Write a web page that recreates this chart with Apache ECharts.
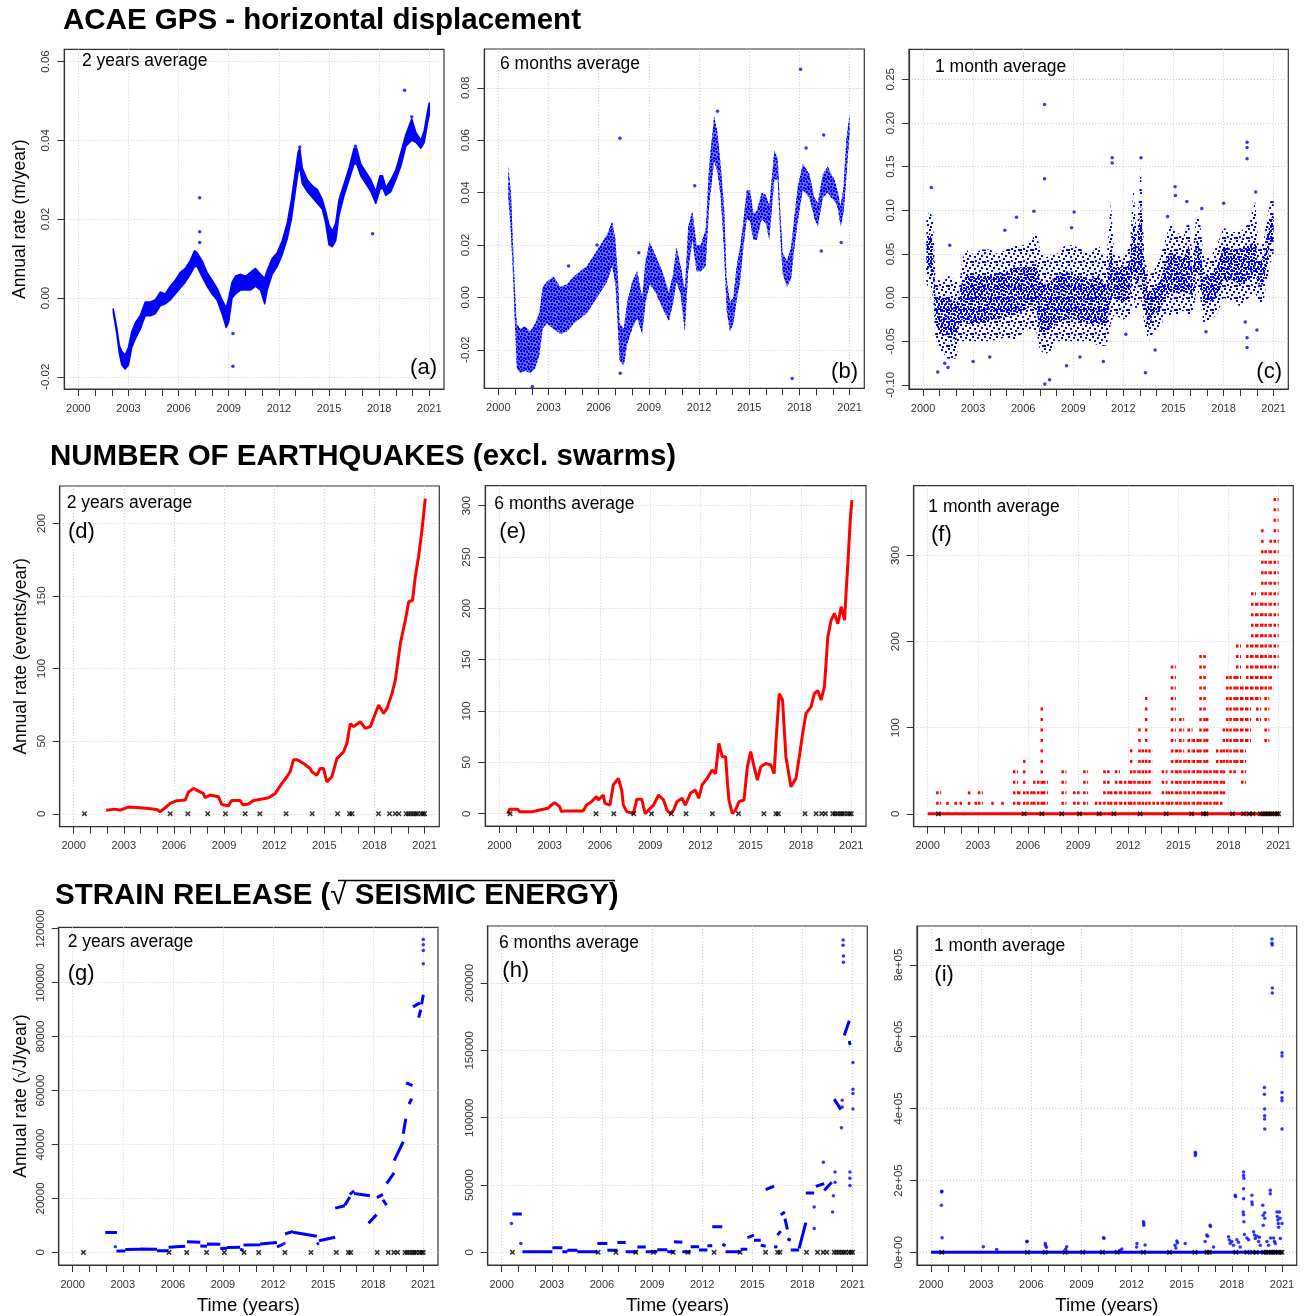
<!DOCTYPE html>
<html><head><meta charset="utf-8">
<script src="https://cdn.jsdelivr.net/npm/echarts@6.0.0/dist/echarts.min.js"></script>
<style>html,body{margin:0;padding:0;background:#fff}#c{width:1306px;height:1316px}</style>
</head><body><div id="c"></div><script>
// ---------------- DATA ----------------
const yearTicks = [2000,2001,2002,2003,2004,2005,2006,2007,2008,2009,2010,2011,2012,2013,2014,2015,2016,2017,2018,2019,2020,2021];
const yearLabels = [2000,2003,2006,2009,2012,2015,2018,2021];

// (a) GPS 2 years average: band of scatter (lower / upper edge)
const aT  = [2002.09,2002.3,2002.45,2002.6,2002.8,2003.0,2003.2,2003.45,2003.7,2004.0,2004.3,2004.6,2004.9,2005.2,2005.5,2005.8,2006.1,2006.4,2006.7,2006.95,2007.1,2007.4,2007.7,2008.0,2008.3,2008.6,2008.85,2009.0,2009.2,2009.4,2009.7,2010.0,2010.3,2010.6,2010.9,2011.15,2011.3,2011.6,2011.9,2012.2,2012.5,2012.75,2012.95,2013.15,2013.25,2013.4,2013.7,2014.0,2014.3,2014.6,2014.8,2015.0,2015.2,2015.4,2015.6,2015.9,2016.2,2016.5,2016.65,2016.9,2017.2,2017.5,2017.8,2018.05,2018.2,2018.4,2018.7,2019.0,2019.3,2019.6,2019.95,2020.2,2020.5,2020.7,2020.9,2021.0];
const aLo = [-0.0036,-0.009,-0.014,-0.017,-0.018,-0.017,-0.0125,-0.010,-0.008,-0.0045,-0.0045,-0.004,-0.002,-0.0015,-0.0005,0.001,0.0025,0.004,0.006,0.008,0.008,0.0055,0.003,0.001,-0.0005,-0.004,-0.0075,-0.006,0.000,0.001,0.002,0.002,0.002,0.003,0.002,-0.0015,0.002,0.006,0.008,0.011,0.015,0.020,0.026,0.032,0.033,0.029,0.027,0.0255,0.024,0.0225,0.019,0.0135,0.013,0.0145,0.021,0.026,0.030,0.034,0.034,0.031,0.029,0.027,0.024,0.0275,0.028,0.026,0.027,0.030,0.0335,0.0385,0.040,0.0395,0.038,0.0395,0.0445,0.0465];
const aHi = [-0.0028,-0.0075,-0.012,-0.0135,-0.0145,-0.0125,-0.0085,-0.006,-0.0045,-0.001,-0.001,-0.0005,0.0015,0.001,0.003,0.0045,0.0065,0.0075,0.0095,0.012,0.0115,0.0095,0.0065,0.0045,0.0025,-0.0005,-0.0025,0.000,0.004,0.0055,0.006,0.0055,0.0065,0.0075,0.006,0.005,0.007,0.010,0.0115,0.0145,0.019,0.025,0.031,0.037,0.038,0.033,0.030,0.0285,0.0275,0.025,0.022,0.0185,0.017,0.019,0.025,0.029,0.033,0.038,0.038,0.034,0.032,0.030,0.027,0.031,0.031,0.028,0.030,0.0325,0.037,0.0415,0.0455,0.042,0.040,0.0425,0.0475,0.0495];
const aOut = [[2007.26,0.0254],[2007.26,0.0168],[2007.26,0.0141],[2009.25,-0.0173],[2009.25,-0.009],[2017.61,0.0163],[2019.52,0.0527],[2013.25,0.0383],[2016.58,0.0385],[2019.95,0.046]];

// (b) GPS 6 months average
const bT  = [2000.6,2000.75,2000.88,2000.98,2001.1,2001.3,2001.6,2001.9,2002.2,2002.45,2002.65,2002.9,2003.3,2003.7,2004.1,2004.5,2004.9,2005.3,2005.7,2006.1,2006.5,2006.8,2007.0,2007.15,2007.25,2007.5,2007.7,2008.0,2008.3,2008.6,2008.8,2009.05,2009.4,2009.8,2010.2,2010.45,2010.65,2010.9,2011.15,2011.35,2011.6,2011.85,2012.1,2012.4,2012.6,2012.9,2013.1,2013.3,2013.5,2013.65,2013.85,2014.05,2014.25,2014.45,2014.65,2014.85,2015.05,2015.25,2015.45,2015.75,2016.0,2016.2,2016.5,2016.7,2016.87,2017.0,2017.25,2017.5,2017.7,2017.9,2018.2,2018.6,2018.9,2019.1,2019.4,2019.7,2019.9,2020.1,2020.3,2020.46,2020.64,2020.8,2021.0];
const bLo = [0.038,0.025,0.008,-0.008,-0.027,-0.029,-0.028,-0.029,-0.027,-0.022,-0.012,-0.010,-0.012,-0.014,-0.013,-0.010,-0.008,-0.006,-0.002,0.002,0.006,0.012,0.005,-0.012,-0.024,-0.026,-0.018,-0.012,-0.008,-0.014,-0.002,0.005,0.002,-0.004,-0.009,-0.002,0.006,0.001,-0.013,0.010,0.022,0.010,0.010,0.012,0.035,0.052,0.048,0.038,0.017,-0.005,-0.013,-0.010,-0.001,0.006,0.019,0.030,0.029,0.022,0.022,0.030,0.028,0.022,0.045,0.045,0.022,0.009,0.004,0.007,0.019,0.029,0.041,0.038,0.030,0.027,0.038,0.040,0.038,0.037,0.034,0.027,0.032,0.045,0.063];
const bHi = [0.050,0.040,0.020,0.004,-0.010,-0.012,-0.011,-0.013,-0.010,-0.006,0.004,0.006,0.008,0.004,0.005,0.008,0.010,0.012,0.016,0.020,0.024,0.029,0.022,0.008,-0.010,-0.012,-0.002,0.006,0.010,0.000,0.014,0.021,0.016,0.010,0.002,0.009,0.019,0.012,0.003,0.027,0.033,0.020,0.020,0.026,0.050,0.069,0.063,0.050,0.034,0.007,-0.002,0.000,0.012,0.019,0.029,0.041,0.041,0.032,0.033,0.040,0.039,0.035,0.056,0.053,0.031,0.017,0.014,0.019,0.031,0.042,0.051,0.047,0.038,0.036,0.047,0.050,0.047,0.045,0.040,0.035,0.042,0.060,0.070];
const bOut = [[2007.27,0.0607],[2018.07,0.0871],[2017.57,-0.031],[2002.03,-0.034],[2019.31,0.0177],[2020.5,0.0209],[2007.29,-0.029],[2011.74,0.0426],[2019.45,0.062],[2013.1,0.071],[2004.2,0.012],[2005.9,0.020],[2008.4,0.017],[2018.4,0.057]];

// (c) GPS 1 month average: outer scatter envelope and dense core
const cT   = [2000.2,2000.4,2000.6,2000.75,2001.0,2001.5,2002.0,2002.15,2002.35,2002.7,2003.0,2003.5,2004.0,2004.5,2005.0,2005.5,2006.0,2006.5,2006.8,2007.0,2007.3,2007.7,2008.0,2008.5,2009.0,2009.5,2010.0,2010.5,2011.0,2011.25,2011.45,2012.0,2012.4,2012.6,2012.8,2013.05,2013.25,2013.5,2013.8,2014.2,2014.5,2014.8,2015.2,2015.6,2015.9,2016.15,2016.4,2016.6,2016.8,2017.2,2017.6,2018.0,2018.5,2019.0,2019.5,2019.9,2020.1,2020.4,2020.6,2020.8,2021.0];
const cOLo = [0.010,0.020,0.000,-0.050,-0.060,-0.070,-0.070,-0.050,-0.050,-0.050,-0.050,-0.050,-0.050,-0.048,-0.045,-0.050,-0.040,-0.035,-0.040,-0.060,-0.065,-0.060,-0.050,-0.050,-0.050,-0.050,-0.050,-0.055,-0.055,-0.030,-0.020,-0.025,-0.020,0.000,-0.020,0.000,-0.030,-0.050,-0.040,-0.035,-0.020,-0.020,-0.020,-0.015,-0.020,-0.020,0.010,0.000,-0.030,-0.025,-0.020,0.000,-0.005,-0.010,0.000,0.005,-0.005,-0.005,0.020,0.040,0.045];
const cLo  = [0.030,0.035,0.020,-0.030,-0.040,-0.045,-0.050,-0.030,-0.025,-0.030,-0.030,-0.028,-0.025,-0.025,-0.022,-0.020,-0.015,-0.010,-0.015,-0.040,-0.040,-0.035,-0.030,-0.025,-0.025,-0.028,-0.030,-0.030,-0.035,0.000,0.000,-0.005,0.000,0.030,0.010,0.030,-0.010,-0.035,-0.020,-0.015,0.000,0.005,0.005,0.005,0.005,0.000,0.030,0.020,-0.010,-0.005,0.000,0.020,0.020,0.015,0.020,0.025,0.015,0.015,0.040,0.060,0.065];
const cHi  = [0.065,0.075,0.060,0.000,0.000,0.000,-0.005,0.000,0.020,0.025,0.025,0.025,0.025,0.028,0.030,0.035,0.035,0.035,0.040,0.020,0.015,0.020,0.025,0.030,0.030,0.025,0.020,0.025,0.015,0.060,0.035,0.035,0.040,0.090,0.050,0.110,0.040,0.005,0.010,0.020,0.040,0.055,0.050,0.045,0.060,0.030,0.070,0.055,0.025,0.025,0.035,0.060,0.055,0.055,0.060,0.065,0.040,0.045,0.070,0.090,0.095];
const cOHi = [0.090,0.100,0.090,0.020,0.020,0.025,0.020,0.010,0.045,0.055,0.050,0.055,0.055,0.050,0.055,0.060,0.060,0.065,0.075,0.055,0.045,0.050,0.050,0.060,0.060,0.055,0.050,0.060,0.045,0.110,0.050,0.045,0.060,0.130,0.070,0.150,0.050,0.025,0.030,0.045,0.065,0.085,0.075,0.070,0.090,0.050,0.100,0.085,0.050,0.045,0.060,0.080,0.075,0.075,0.085,0.110,0.060,0.065,0.090,0.110,0.120];
const cOut = [[2007.28,0.221],[2007.28,0.136],[2007.3,-0.099],[2011.33,0.160],[2011.33,0.154],[2013.06,0.160],[2019.41,0.178],[2019.41,0.172],[2019.41,0.159],[2019.41,-0.057],[2019.41,-0.046],[2019.3,-0.028],[2000.5,0.126],[2000.88,-0.085],[2013.32,-0.086],[2015.12,0.117],[2015.1,0.127],[2019.93,0.121],[2020.0,-0.037],[2016.95,-0.039],[2006.64,0.099],[2009.05,0.098],[2005.6,0.092],[2018.01,0.108],[2007.58,-0.094],[2001.6,0.060],[2001.5,-0.080],[2001.3,-0.075],[2008.6,-0.078],[2010.8,-0.073],[2003.0,-0.073],[2004.0,-0.068],[2009.4,-0.068],[2012.15,-0.042],[2013.9,-0.060],[2004.9,0.077],[2008.9,0.080],[2014.65,0.093],[2015.8,0.110],[2016.7,0.102]];

// (d),(e) number of earthquakes, red lines
const dT = [2001.94,2002.47,2002.77,2003.27,2003.97,2004.47,2004.97,2005.17,2005.47,2005.77,2006.17,2006.67,2006.87,2007.17,2007.56,2007.76,2007.86,2008.16,2008.66,2008.86,2009.26,2009.46,2009.96,2010.12,2010.46,2010.76,2011.36,2011.66,2012.06,2012.46,2012.76,2012.95,2013.15,2013.35,2013.75,2014.15,2014.25,2014.55,2014.75,2014.95,2015.15,2015.45,2015.75,2016.15,2016.35,2016.55,2016.75,2017.15,2017.45,2017.75,2018.25,2018.55,2018.75,2019.05,2019.25,2019.55,2019.85,2020.05,2020.28,2020.44,2020.64,2020.84,2021.04];
const dV = [2.5,3.2,2.5,4.6,4.1,3.7,3.0,1.4,4.1,7.1,9.0,9.4,15,17.5,15,14,11,12.9,11.7,6.4,5.5,9.2,9.2,6.2,6.7,9.2,10.3,11,14,20.9,25.5,28.9,37,37.4,34.7,31.2,28.9,26.6,31.2,31.2,22,25.5,38,42.7,48.5,62,60,63.4,58.8,60,74.9,69.1,72.6,82.9,92,117.3,133.4,146,147,163,177,195,217];
const eT = [2000.5,2000.6,2001.1,2001.2,2002.0,2002.4,2002.9,2003.1,2003.3,2003.6,2003.7,2003.9,2005.0,2005.2,2005.5,2005.8,2005.9,2006.2,2006.3,2006.6,2006.8,2007.1,2007.3,2007.4,2007.6,2008.0,2008.2,2008.5,2008.6,2008.7,2008.9,2009.2,2009.5,2009.8,2010.0,2010.2,2010.4,2010.6,2010.9,2011.1,2011.4,2011.7,2011.9,2012.1,2012.4,2012.7,2012.9,2013.1,2013.3,2013.5,2013.6,2013.7,2013.9,2014.1,2014.3,2014.6,2014.8,2015.0,2015.2,2015.4,2015.6,2015.9,2016.2,2016.4,2016.5,2016.7,2016.9,2017.1,2017.4,2017.7,2017.9,2018.1,2018.3,2018.6,2018.8,2019.0,2019.2,2019.4,2019.6,2019.8,2020.0,2020.2,2020.4,2020.6,2020.7,2020.8,2020.94,2021.04];
const eV = [0,4.2,4.2,2,2,3.6,5.2,8.4,10.7,6.8,2,2.6,2.6,8.4,11.7,16.6,13.3,18.2,10,8.4,28,34.4,23,8.4,2,0,14,14,6.8,0,3.6,8.4,18.2,13.3,3.6,0,3.6,11.7,15,8.4,19.8,23,15,28,34.4,42.5,39,68.5,55.5,55.5,32.8,13.3,0.3,3.6,11.7,13.3,45.8,60.4,45.8,32.8,45.8,49,47.4,39,68.5,117,110.7,55.5,26.3,34.4,55.5,78,97.7,104,117,120,110.7,123.7,172,188.6,195,185,201.6,188.6,218,243.8,286,305.5];

// (f) 1 month average: [start, end, lowest count, highest count] (rate = count x 12.17 / yr)
const fLevel = 12.17;
const fRec = [[2000.0,2021.0,0,0],[2000.5,2000.8,1,2],[2001.1,2001.3,1,1],[2001.6,2001.8,1,1],[2001.9,2002.1,1,1],[2002.4,2002.6,1,2],[2002.8,2003.0,1,1],[2003.0,2003.3,1,2],[2003.8,2004.0,1,1],[2004.4,2004.6,1,1],[2005.1,2005.4,1,4],[2005.4,2005.6,1,2],[2005.7,2005.9,1,5],[2005.9,2006.3,1,2],[2006.3,2006.7,1,3],[2006.75,2006.9,1,10],[2006.9,2007.2,1,3],[2008.0,2008.3,1,4],[2008.7,2009.1,1,2],[2009.3,2009.6,1,4],[2010.0,2010.5,1,1],[2010.5,2010.9,1,4],[2010.9,2011.2,1,2],[2011.2,2011.5,1,4],[2011.5,2012.1,1,3],[2012.1,2012.3,1,6],[2012.3,2012.6,1,4],[2012.6,2012.8,1,8],[2012.8,2013.0,1,6],[2013.0,2013.2,1,11],[2013.2,2013.45,1,6],[2013.45,2014.0,1,1],[2014.0,2014.35,1,4],[2014.35,2014.55,1,2],[2014.55,2014.85,1,14],[2014.85,2015.05,1,6],[2015.05,2015.35,1,9],[2015.35,2015.55,1,5],[2015.55,2015.85,1,8],[2015.85,2016.25,1,7],[2016.25,2016.65,1,15],[2016.65,2016.85,1,9],[2016.85,2017.25,1,4],[2017.25,2017.65,1,6],[2017.65,2017.85,2,8],[2017.85,2018.05,5,13],[2018.05,2018.45,4,13],[2018.45,2018.75,5,16],[2018.75,2019.05,3,12],[2019.05,2019.35,7,16],[2019.35,2019.65,11,21],[2019.65,2019.95,9,20],[2019.95,2020.15,12,27],[2020.15,2020.45,7,25],[2020.45,2020.7,12,26],[2020.7,2021.0,14,30]];

// (g),(h) strain release: pieces [t0, t1, v0, v1] plus isolated points
const gSeg = [[2001.95,2002.65,7400,7400],[2002.62,2003.15,500,500],[2003.15,2004.05,1100,1150],[2004.05,2005.05,1250,1200],[2005.05,2005.74,650,600],[2005.74,2006.74,1900,2300],[2006.84,2007.64,3900,3800],[2007.64,2008.04,2400,2300],[2008.04,2008.84,3100,3000],[2008.84,2009.24,1400,1500],[2009.24,2010.03,1800,1900],[2010.03,2010.23,1200,700],[2010.23,2011.23,2700,2800],[2011.23,2012.23,3100,3700],[2012.23,2012.6,2000,3000],[2012.72,2013.2,6800,7800],[2013.2,2014.62,7500,6000],[2014.62,2014.75,3000,3500],[2014.75,2015.72,4300,5600],[2015.72,2016.3,16400,17300],[2016.3,2016.6,17500,20500],[2016.6,2016.85,21500,22800],[2016.85,2017.8,21800,21000],[2017.72,2018.2,10800,14000],[2018.22,2018.58,20300,21500],[2018.58,2018.8,19500,17500],[2018.8,2019.25,25500,29500],[2019.25,2019.8,34000,41000],[2019.8,2019.95,44000,49500],[2019.97,2020.35,62800,61800],[2020.15,2020.3,55000,57000],[2020.38,2020.8,91000,92500],[2020.72,2020.85,87000,90000],[2020.9,2021.0,92000,95500]];
const gPts = [[2002.55,2090],[2012.66,3300],[2021.0,116000],[2021.0,114000],[2021.0,111900],[2021.0,107000]];
const hSeg = [[2000.64,2001.2,28500,28500],[2001.24,2003.03,500,500],[2003.03,2003.63,3400,3400],[2003.63,2003.93,500,500],[2003.93,2004.53,1500,1500],[2004.53,2005.72,400,400],[2005.72,2006.32,6600,6600],[2006.32,2006.92,1500,1500],[2006.92,2007.42,7300,7300],[2007.42,2008.12,400,400],[2008.12,2008.62,3900,3900],[2008.62,2009.31,500,500],[2009.31,2009.91,2000,2000],[2009.91,2010.31,500,500],[2010.31,2010.81,7800,7500],[2010.81,2011.31,500,500],[2011.31,2011.81,4200,4200],[2011.81,2012.31,1700,1700],[2012.31,2012.6,4900,4900],[2012.6,2013.2,19000,19000],[2013.2,2013.4,5900,5000],[2013.4,2014.3,500,500],[2014.3,2014.7,2400,2400],[2014.7,2015.1,11000,12800],[2015.1,2015.5,9000,9000],[2015.5,2015.8,5400,4500],[2015.8,2016.3,46500,49200],[2016.3,2016.5,4000,4200],[2016.5,2016.7,12800,15800],[2016.7,2016.95,28000,30000],[2016.95,2017.1,25000,17000],[2017.1,2017.3,10000,9000],[2017.3,2017.8,1800,1800],[2017.8,2018.2,3000,22000],[2018.2,2018.7,44000,44000],[2018.8,2019.3,49000,51000],[2019.3,2019.75,46000,52000],[2019.9,2020.3,113800,106000],[2020.5,2020.8,161000,172000],[2020.8,2020.85,157000,154000]];
const hPts = [[2000.58,21400],[2001.14,6650],[2018.7,17700],[2018.7,33700],[2019.25,67000],[2019.8,30000],[2019.85,42000],[2019.95,59600],[2019.95,52000],[2020.33,92600],[2020.43,232000],[2020.43,228000],[2020.45,220000],[2020.45,215500],[2020.84,49700],[2020.84,55000],[2020.84,59600],[2021.02,140900],[2021.02,121200],[2021.02,118000],[2021.02,106400],[2020.38,113000],[2020.38,108000]];
// (i) 1 month strain release: baseline near zero plus points
const iBase = [[2000.0,0],[2021.04,0]];
const iPts = [[2000.64,168000],[2000.64,170000],[2000.62,131000],[2000.66,40600],[2003.13,15700],[2003.93,8300],[2005.73,29500],[2005.75,31000],[2006.83,24900],[2006.85,20000],[2006.9,14000],[2008.12,15700],[2008.05,9000],[2010.32,40600],[2010.35,39000],[2011.42,9200],[2011.3,6000],[2012.32,24900],[2012.3,15000],[2012.71,84900],[2012.73,80000],[2012.73,75700],[2012.81,20300],[2014.71,31400],[2014.75,27000],[2014.6,20000],[2014.65,12000],[2015.21,24900],[2015.81,278600],[2015.81,269400],[2015.83,274000],[2016.5,48000],[2016.55,45000],[2016.7,75700],[2016.72,72000],[2016.4,30000],[2016.9,15000],[2017.8,43400],[2017.85,34100],[2017.9,25000],[2018.0,30000],[2018.1,20000],[2018.2,158700],[2018.22,155000],[2018.3,35000],[2018.4,28000],[2018.5,15000],[2018.7,214000],[2018.7,223300],[2018.72,206000],[2018.7,177200],[2018.7,149500],[2018.68,112600],[2018.7,105000],[2018.72,84900],[2018.75,50000],[2018.9,40000],[2019.0,35000],[2019.2,158700],[2019.2,140200],[2019.22,133000],[2019.3,57200],[2019.35,48000],[2019.4,38800],[2019.5,45000],[2019.6,30000],[2019.65,42000],[2019.7,20000],[2019.85,131000],[2019.87,103300],[2019.88,75700],[2019.95,458600],[2019.95,440000],[2019.96,398600],[2019.96,380000],[2019.96,370900],[2019.97,343200],[2019.97,110000],[2019.97,95000],[2020.1,30000],[2020.2,20000],[2020.3,172500],[2020.3,163300],[2020.32,40000],[2020.4,872000],[2020.4,860000],[2020.41,855300],[2020.42,735400],[2020.42,721500],[2020.5,40000],[2020.55,30000],[2020.6,25000],[2020.7,112600],[2020.72,100000],[2020.75,90000],[2020.78,80000],[2020.8,70000],[2020.85,112000],[2020.88,95000],[2020.9,38800],[2021.0,555500],[2021.0,546200],[2021.0,444700],[2021.0,430000],[2021.0,421700],[2021.0,343200],[2021.0,80000]];

// swarm times (black crosses on the zero line)
const swT = [2000.64,2005.77,2006.83,2008.02,2009.08,2010.26,2011.14,2012.71,2014.27,2015.79,2016.51,2016.65,2018.24,2018.90,2019.24,2019.46,2019.90,2020.04,2020.18,2020.34,2020.46,2020.58,2020.78,2020.90,2021.0];

// ---------------- LAYOUT / STYLE ----------------
const FONT = '"Liberation Sans", Arial, Helvetica, sans-serif';
const X_MIN = 1999.16, X_MAX = 2021.88;
const BLUE = '#0000ff', RED = '#ff0000';
const f2 = v => v.toFixed(2);
const panels = [
  {rect:[64.3,49.3,379.7,339.7], yMin:-0.0231, yMax:0.0631, yTicks:[-0.02,0,0.02,0.04,0.06], fmt:f2, yName:'Annual rate (m/year)', nameGap:35},
  {rect:[484.3,49,380,339.3], yMin:-0.0347, yMax:0.0948, yTicks:[-0.02,0,0.02,0.04,0.06,0.08], fmt:f2},
  {rect:[909,49.3,379.3,339.7], yMin:-0.1046, yMax:0.2843, yTicks:[-0.1,-0.05,0,0.05,0.1,0.15,0.2,0.25], fmt:f2},
  {rect:[59.7,486,379.6,340.7], yMin:-8.9, yMax:225.7, yTicks:[0,50,100,150,200], fmt:String, yName:'Annual rate (events/year)', nameGap:30},
  {rect:[485.3,485.7,380.7,340.3], yMin:-12, yMax:319.5, yTicks:[0,50,100,150,200,250,300], fmt:String},
  {rect:[913.7,485.7,379.6,341], yMin:-15, yMax:381, yTicks:[0,100,200,300], fmt:String},
  {rect:[58.7,927.3,379.3,339.4], yMin:-4675, yMax:120500, yTicks:[0,20000,40000,60000,80000,100000,120000], fmt:String, yName:'Annual rate (\u221AJ/year)', nameGap:29, xName:'Time (years)'},
  {rect:[487.7,926,379.6,340.7], yMin:-9380, yMax:242350, yTicks:[0,50000,100000,150000,200000], fmt:String, xName:'Time (years)'},
  {rect:[917,926,379.7,340.7], yMin:-35150, yMax:908000, yTicks:[0,200000,400000,600000,800000], fmt:v => v===0 ? '0e+00' : (v/100000)+'e+05', xName:'Time (years)'}
];

const grids = [], xAxes = [], yAxes = [], series = [];
panels.forEach((p, i) => {
  grids.push({left:p.rect[0], top:p.rect[1], width:p.rect[2], height:p.rect[3], show:true,
    borderColor:'#333', borderWidth:1.2, backgroundColor:'transparent', containLabel:false});
  xAxes.push({gridIndex:i, type:'value', min:X_MIN, max:X_MAX, position:'bottom',
    axisLine:{show:true, onZero:false, lineStyle:{color:'#333', width:1.2}},
    axisTick:{show:true, length:7, customValues:yearTicks, lineStyle:{color:'#333'}},
    axisLabel:{customValues:yearLabels, formatter:v => String(v), fontSize:11, color:'#333', margin:14, fontFamily:FONT},
    splitLine:{show:false},
    name:p.xName || '', nameLocation:'middle', nameGap:31,
    nameTextStyle:{fontSize:18.5, color:'#000', fontFamily:FONT}});
  xAxes.push({gridIndex:i, type:'value', min:X_MIN, max:X_MAX, position:'top',
    axisLine:{show:false}, axisTick:{show:false, customValues:yearLabels}, axisLabel:{show:false, customValues:yearLabels},
    splitLine:{show:true, lineStyle:{color:'#cfcfcf', width:1, type:[1,2]}}});
  yAxes.push({gridIndex:i, type:'value', min:p.yMin, max:p.yMax,
    axisLine:{show:true, onZero:false, lineStyle:{color:'#333', width:1.2}},
    axisTick:{show:true, length:7, customValues:p.yTicks, lineStyle:{color:'#333'}},
    axisLabel:{customValues:p.yTicks, formatter:p.fmt, rotate:90, fontSize:11.5, color:'#333', margin:12, fontFamily:FONT},
    splitLine:{show:true, lineStyle:{color:'#cfcfcf', width:1, type:[1,2]}},
    name:p.yName || '', nameLocation:'middle', nameGap:p.nameGap || 30,
    nameTextStyle:{fontSize:17.5, color:'#000', fontFamily:FONT}});
});

function band(pi, T, LO, HI, fill, z, edge) {
  return {type:'custom', xAxisIndex:2*pi, yAxisIndex:pi, silent:true, z:z||2, animation:false,
    data:[[T[0], LO[0]]],
    renderItem:(params, api) => {
      const pts = [];
      for (let k = 0; k < T.length; k++) pts.push(api.coord([T[k], HI[k]]));
      for (let k = T.length - 1; k >= 0; k--) pts.push(api.coord([T[k], LO[k]]));
      return {type:'polygon', shape:{points:pts},
        style:{fill:fill, stroke: edge ? BLUE : 'none', lineWidth: edge || 0, lineJoin:'round'}};
    }};
}
function dots(pi, pts, color, size) {
  return {type:'scatter', xAxisIndex:2*pi, yAxisIndex:pi, data:pts, symbol:'circle', symbolSize:size||3.5,
    itemStyle:{color:color}, silent:true, animation:false, z:4};
}
function pattern(cell, spots, color) {
  const c = document.createElement('canvas'); c.width = cell; c.height = cell;
  const ctx = c.getContext('2d'); ctx.fillStyle = color;
  spots.forEach(s => ctx.fillRect(s[0], s[1], 2, 2));
  return {image:c, repeat:'repeat'};
}
function pieces(pi, segs, color) {
  const data = [];
  segs.forEach(s => { data.push([s[0], s[2]]); data.push([s[1], s[3]]); data.push([s[1], '-']); });
  return {type:'line', xAxisIndex:2*pi, yAxisIndex:pi, data:data, showSymbol:false, connectNulls:false,
    lineStyle:{color:color, width:3}, silent:true, animation:false, z:3};
}
const CROSS = 'path://M0,2L2,0L5,3L8,0L10,2L7,5L10,8L8,10L5,7L2,10L0,8L3,5Z';
function swarms(pi) {
  return {type:'scatter', xAxisIndex:2*pi, yAxisIndex:pi, data:swT.map(t => [t, 0]), symbol:CROSS, symbolSize:5.5,
    itemStyle:{color:'#000'}, silent:true, animation:false, z:6};
}

// texture tiles for the scatter clouds
const sparseTile = pattern(12, [[0,0],[5,1],[9,3],[2,4],[7,6],[10,9],[3,8],[6,10],[0,9]], BLUE);
const denseTile  = pattern(10, [[0,0],[3,0],[6,1],[8,3],[1,3],[4,4],[7,6],[0,6],[3,7],[5,8],[8,8],[1,9]], BLUE);

// (a)
series.push(band(0, aT, aLo, aHi, BLUE, 2, 1.5));
series.push(dots(0, aOut, BLUE));
// (b)
series.push(band(1, bT, bLo, bHi, 'rgba(0,0,255,0.6)', 2, 0));
series.push(band(1, bT, bLo, bHi, denseTile, 3, 0));
series.push(dots(1, bOut, BLUE));
// (c)
series.push(band(2, cT, cOLo, cOHi, sparseTile, 2));
series.push(band(2, cT, cLo, cHi, denseTile, 3));
series.push(dots(2, cOut, BLUE));
// (d)
series.push({type:'line', xAxisIndex:6, yAxisIndex:3, data:dT.map((t,k) => [t, dV[k]]), showSymbol:false,
  lineStyle:{color:RED, width:3}, silent:true, animation:false, z:3});
series.push(swarms(3));
// (e)
series.push({type:'line', xAxisIndex:8, yAxisIndex:4, data:eT.map((t,k) => [t, eV[k]]), showSymbol:false,
  lineStyle:{color:RED, width:3}, silent:true, animation:false, z:3});
series.push(swarms(4));
// (f)
series.push({type:'custom', xAxisIndex:10, yAxisIndex:5, silent:true, animation:false, z:3,
  data:fRec, encode:{x:[0,1], y:[2,3]},
  renderItem:(params, api) => {
    const t0 = api.value(0), t1 = api.value(1), k0 = api.value(2), k1 = api.value(3);
    const ch = [];
    for (let k = k0; k <= k1; k++) {
      const a = api.coord([t0, k*fLevel]), b = api.coord([t1, k*fLevel]);
      ch.push({type:'line', shape:{x1:a[0], y1:a[1], x2:b[0], y2:b[1]},
        style:{stroke:RED, lineWidth:3, lineDash: k === 0 ? null : [2.5,1.5]}});
    }
    return {type:'group', children:ch};
  }});
series.push(swarms(5));
// (g)
series.push(pieces(6, gSeg, BLUE));
series.push(dots(6, gPts, BLUE));
series.push(swarms(6));
// (h)
series.push(pieces(7, hSeg, BLUE));
series.push(dots(7, hPts, BLUE));
series.push(swarms(7));
// (i)
series.push({type:'line', xAxisIndex:16, yAxisIndex:8, data:iBase, showSymbol:false,
  lineStyle:{color:BLUE, width:3}, silent:true, animation:false, z:3});
series.push(dots(8, iPts, BLUE));
series.push(swarms(8));

// texts
function txt(x, y, s, size, weight, align) {
  return {type:'text', x:x, y:y, silent:true, z:100,
    style:{text:s, fontSize:size, fontWeight:weight||'normal', fontFamily:FONT, fill:'#000',
      verticalAlign:'middle', align:align||'left'}};
}
const graphics = [
  txt(63, 21, 'ACAE GPS - horizontal displacement', 29.5, 'bold'),
  txt(50, 457, 'NUMBER OF EARTHQUAKES (excl. swarms)', 29.5, 'bold'),
  {type:'text', x:55, y:896, silent:true, z:100, style:{
    text:'{b|STRAIN RELEASE (}{n|\u221A}{b| SEISMIC ENERGY)}',
    verticalAlign:'middle', align:'left',
    rich:{b:{fontSize:29.5, fontWeight:'bold', fontFamily:FONT, fill:'#000'}, n:{fontSize:29.5, fontWeight:'normal', fontFamily:FONT, fill:'#000'}}}},
  {type:'line', silent:true, z:100, shape:{x1:338, y1:880.5, x2:615, y2:880.5}, style:{stroke:'#000', lineWidth:1.5}},
  txt(82, 61, '2 years average', 17.5), txt(437, 368, '(a)', 22, 'normal', 'right'),
  txt(500, 64, '6 months average', 17.5), txt(858, 371.7, '(b)', 22, 'normal', 'right'),
  txt(935, 66.7, '1 month average', 17.5), txt(1282, 371.7, '(c)', 22, 'normal', 'right'),
  txt(66.7, 502.7, '2 years average', 17.5), txt(68, 531.7, '(d)', 22),
  txt(494.3, 504, '6 months average', 17.5), txt(499.3, 532.3, '(e)', 22),
  txt(928.3, 507.3, '1 month average', 17.5), txt(931, 535, '(f)', 22),
  txt(67.7, 941.7, '2 years average', 17.5), txt(67.7, 974.3, '(g)', 22),
  txt(499, 943.3, '6 months average', 17.5), txt(502.3, 971, '(h)', 22),
  txt(934, 946, '1 month average', 17.5), txt(934.3, 975, '(i)', 22)
];

const chart = echarts.init(document.getElementById('c'), null, {renderer:'canvas'});
chart.setOption({
  animation:false, backgroundColor:'#fff',
  textStyle:{fontFamily:FONT},
  grid:grids, xAxis:xAxes, yAxis:yAxes, series:series, graphic:graphics
});
</script></body></html>
